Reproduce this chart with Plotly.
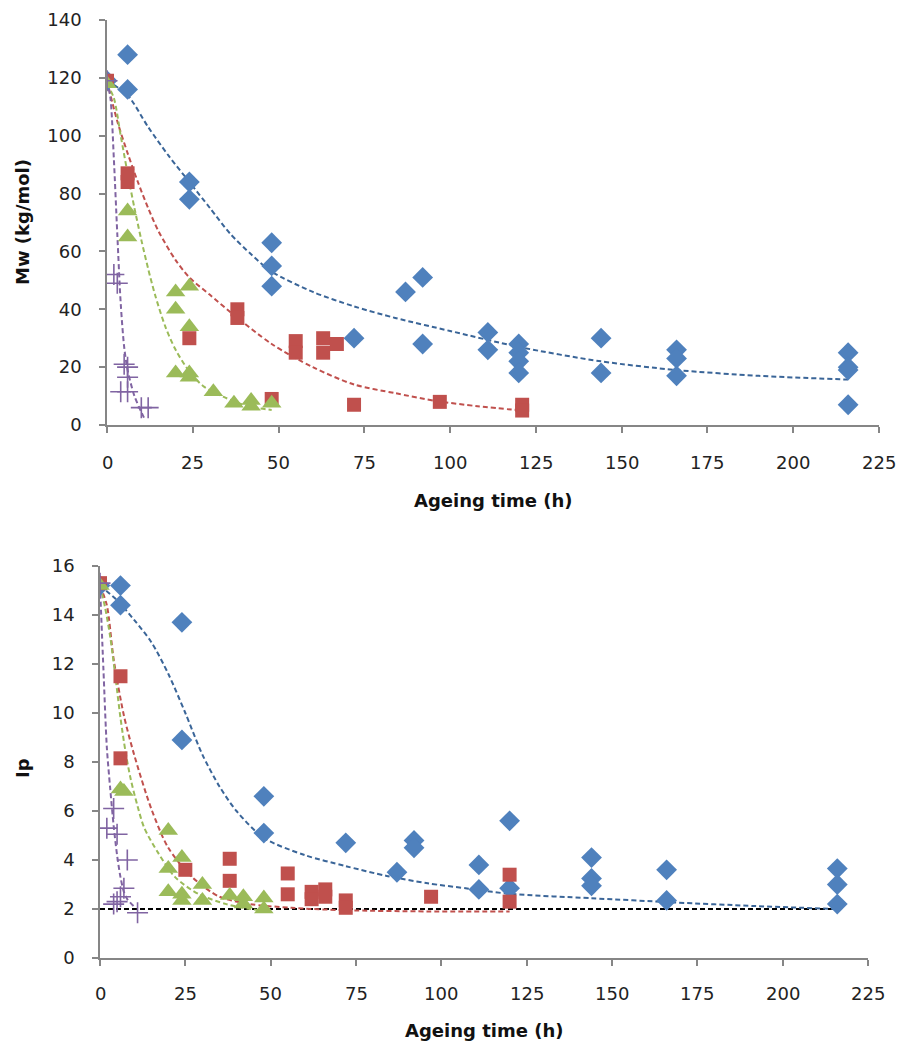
import plotly.graph_objects as go

# ---------------- Top chart: Mw (kg/mol) ----------------
blue_t = [0, 6, 6, 24, 24, 48, 48, 48, 72, 87, 92, 92, 111, 111, 120, 120, 120, 120, 144, 144, 166, 166, 166, 216, 216, 216, 216]
blue_mw = [119, 128, 116, 84, 78, 63, 55, 48, 30, 46, 51, 28, 32, 26, 28, 25, 22, 18, 30, 18, 26, 23, 17, 25, 20, 19, 7]

red_t = [0, 6, 6, 24, 38, 38, 48, 55, 55, 63, 63, 67, 72, 97, 121, 121]
red_mw = [119, 87, 84, 30, 40, 37, 9, 29, 25, 30, 25, 28, 7, 8, 7, 5]

green_t = [0, 6, 6, 20, 24, 20, 24, 20, 24, 24, 31, 37, 42, 42, 48]
green_mw = [118, 74, 65, 46, 48, 40, 34, 18, 18, 16.5, 11.5, 7.5, 8.5, 6.5, 7.5]

purple_t = [0, 2, 3, 5, 6, 6, 4, 6, 10, 12]
purple_mw = [119, 52, 49, 21, 20, 16.5, 11.5, 11.5, 6, 6]

# fitted trend curves
blue_fit_t = [0, 6, 12, 18, 24, 30, 36, 42, 48, 60, 72, 84, 100, 120, 144, 166, 190, 216]
blue_fit_mw = [119, 114, 103, 93, 84, 75, 66, 59, 53, 46, 41, 37, 32.5, 27, 22, 19, 17, 15.7]
red_fit_t = [0, 3, 6, 9, 12, 15, 20, 24, 30, 36, 48, 60, 72, 84, 96, 108, 121]
red_fit_mw = [119, 105, 94, 84, 75, 67, 57, 51, 45, 39, 28, 20, 14, 11, 8.3, 6.5, 5]
green_fit_t = [0, 2, 4, 6, 8, 10, 12, 14, 17, 20, 24, 28, 34, 41, 48]
green_fit_mw = [118, 113, 100, 87, 75, 64, 54, 45, 34, 26, 18.5, 13.5, 9.7, 6.5, 5.2]
purple_fit_t = [0, 1, 2, 3, 4, 5, 6, 8, 10, 11]
purple_fit_mw = [119, 113, 92, 66, 42, 27, 19, 10, 4.5, 2]

# ---------------- Bottom chart: Ip ----------------
blue2_t = [0, 6, 6, 24, 24, 48, 48, 72, 87, 92, 92, 111, 111, 120, 120, 144, 144, 144, 166, 166, 216, 216, 216]
blue2_ip = [15.2, 15.2, 14.4, 13.7, 8.9, 6.6, 5.1, 4.7, 3.5, 4.8, 4.5, 3.8, 2.8, 5.6, 2.85, 4.1, 3.25, 2.95, 3.6, 2.35, 3.65, 3.0, 2.2]

red2_t = [0, 6, 6, 25, 38, 38, 55, 55, 62, 62, 66, 66, 72, 72, 97, 120, 120]
red2_ip = [15.3, 11.5, 8.15, 3.6, 4.05, 3.15, 3.45, 2.6, 2.7, 2.4, 2.8, 2.5, 2.35, 2.05, 2.5, 3.4, 2.3]

green2_t = [0, 6, 7, 20, 20, 24, 20, 24, 24, 30, 30, 38, 42, 42, 48, 48]
green2_ip = [15.2, 6.9, 6.8, 5.2, 3.65, 4.1, 2.7, 2.6, 2.35, 3.0, 2.35, 2.55, 2.5, 2.2, 2.45, 2.0]

purple2_t = [0, 4, 2, 5, 8, 7, 6, 5, 4, 11]
purple2_ip = [15.3, 6.1, 5.3, 5.05, 4.0, 2.85, 2.5, 2.3, 2.2, 1.85]

blue2_fit_t = [0, 5, 10, 15, 20, 25, 30, 35, 40, 48, 60, 72, 84, 96, 108, 120, 144, 168, 192, 216]
blue2_fit_ip = [15.2, 14.6, 13.8, 12.9, 11.6, 10.0, 8.3, 7.0, 6.0, 4.9, 4.2, 3.75, 3.35, 3.05, 2.83, 2.62, 2.44, 2.27, 2.12, 2.0]
red2_fit_t = [0, 2, 4, 7, 10, 15, 20, 27, 35, 44, 56, 72, 96, 120]
red2_fit_ip = [15.2, 14.4, 12.2, 9.9, 8.3, 6.1, 4.5, 3.3, 2.5, 2.2, 2.05, 1.95, 1.9, 1.9]
green2_fit_t = [0, 1.5, 3, 4.5, 6, 7.5, 9, 11, 13, 17, 22, 29, 37, 44, 48]
green2_fit_ip = [15.2, 14.3, 13.1, 11.5, 9.8, 8.4, 7.3, 6.2, 5.3, 4.3, 3.3, 2.6, 2.2, 2.0, 1.95]
purple2_fit_t = [0, 1, 2, 3, 4, 5, 6, 7, 8, 10]
purple2_fit_ip = [15.2, 11.8, 8.6, 6.9, 5.4, 4.2, 3.3, 2.7, 2.4, 2.1]
baseline_t = [0, 216]
baseline_ip = [2, 2]

x_ticks = [0, 25, 50, 75, 100, 125, 150, 175, 200, 225]
mw_ticks = [0, 20, 40, 60, 80, 100, 120, 140]
ip_ticks = [0, 2, 4, 6, 8, 10, 12, 14, 16]

BLUE = "#4F81BD"
BLUE_LINE = "#3A6598"
RED = "#C0504D"
GREEN = "#9BBB59"
PURPLE = "#8064A2"
TICK_FONT = "DejaVu Sans"
TITLE_FONT = "DejaVu Sans"

W, H = 904, 1047


def fx(px):
    return px / W


def fy(py):
    return (H - py) / H


fig = go.Figure()


def add_line(x, y, color, xa, ya):
    fig.add_trace(go.Scatter(x=x, y=y, mode="lines", xaxis=xa, yaxis=ya,
                             line=dict(color=color, width=2, dash="5px,3px", shape="spline", smoothing=0.8),
                             showlegend=False, hoverinfo="skip"))


def add_pts(x, y, color, symbol, size, xa, ya, cross=False):
    if cross:
        marker = dict(symbol="cross-thin", size=size, color=color, line=dict(color=color, width=1.6))
    else:
        marker = dict(symbol=symbol, size=size, color=color, line=dict(width=0))
    fig.add_trace(go.Scatter(x=x, y=y, mode="markers", xaxis=xa, yaxis=ya,
                             marker=marker, showlegend=False))


# top chart
add_line(blue_fit_t, blue_fit_mw, BLUE_LINE, "x", "y")
add_line(red_fit_t, red_fit_mw, RED, "x", "y")
add_line(green_fit_t, green_fit_mw, GREEN, "x", "y")
add_line(purple_fit_t, purple_fit_mw, PURPLE, "x", "y")
add_pts(blue_t, blue_mw, BLUE, "diamond", 16, "x", "y")
add_pts(red_t, red_mw, RED, "square", 14, "x", "y")
add_pts(green_t, green_mw, GREEN, "triangle-up", 17, "x", "y")
add_pts(purple_t, purple_mw, PURPLE, None, 15, "x", "y", cross=True)

# bottom chart
add_line(baseline_t, baseline_ip, "#000000", "x2", "y2")
add_line(blue2_fit_t, blue2_fit_ip, BLUE_LINE, "x2", "y2")
add_line(red2_fit_t, red2_fit_ip, RED, "x2", "y2")
add_line(green2_fit_t, green2_fit_ip, GREEN, "x2", "y2")
add_line(purple2_fit_t, purple2_fit_ip, PURPLE, "x2", "y2")
add_pts(blue2_t, blue2_ip, BLUE, "diamond", 16, "x2", "y2")
add_pts(red2_t, red2_ip, RED, "square", 14, "x2", "y2")
add_pts(green2_t, green2_ip, GREEN, "triangle-up", 17, "x2", "y2")
add_pts(purple2_t, purple2_ip, PURPLE, None, 15, "x2", "y2", cross=True)

tick_font = dict(family=TICK_FONT, size=18, color="#222222")
axis_common = dict(showline=True, linecolor="#868686", linewidth=1.5, ticks="outside",
                   tickcolor="#868686", ticklen=6, tickwidth=1.5, showgrid=False, zeroline=False,
                   automargin=False, tickfont=tick_font)

fig.update_layout(
    width=W, height=H, margin=dict(l=0, r=0, t=0, b=0, autoexpand=False),
    paper_bgcolor="white", plot_bgcolor="white",
    xaxis=dict(domain=[fx(107), fx(879)], range=[0, 225], tickvals=x_ticks, showticklabels=False,
               anchor="y", **axis_common),
    yaxis=dict(domain=[fy(425), fy(20)], range=[0, 140], tickvals=mw_ticks,
               anchor="x", ticklabelstandoff=14, **axis_common),
    xaxis2=dict(domain=[fx(100), fx(868)], range=[0, 225], tickvals=x_ticks, showticklabels=False,
                anchor="y2", **axis_common),
    yaxis2=dict(domain=[fy(958), fy(566)], range=[0, 16], tickvals=ip_ticks,
                anchor="x2", ticklabelstandoff=14, **axis_common),
)

# x tick labels placed at the tick values, lowered like the reference
for v in x_ticks:
    fig.add_annotation(text=str(v), x=v, xref="x", y=fy(462), yref="paper", showarrow=False,
                       font=tick_font, xanchor="center", yanchor="middle")
    fig.add_annotation(text=str(v), x=v, xref="x2", y=fy(993), yref="paper", showarrow=False,
                       font=tick_font, xanchor="center", yanchor="middle")

title_font = dict(family=TITLE_FONT, size=18, color="#111111")
fig.add_annotation(text="<b>Ageing time (h)</b>", x=fx(493), y=fy(500), xref="paper", yref="paper",
                   showarrow=False, font=title_font, xanchor="center", yanchor="middle")
fig.add_annotation(text="<b>Ageing time (h)</b>", x=fx(484), y=fy(1030), xref="paper", yref="paper",
                   showarrow=False, font=title_font, xanchor="center", yanchor="middle")
fig.add_annotation(text="<b>Mw (kg/mol)</b>", x=fx(22), y=fy(222), xref="paper", yref="paper",
                   showarrow=False, font=title_font, textangle=-90, xanchor="center", yanchor="middle")
fig.add_annotation(text="<b>Ip</b>", x=fx(22), y=fy(768), xref="paper", yref="paper",
                   showarrow=False, font=title_font, textangle=-90, xanchor="center", yanchor="middle")

fig.write_html("out.html", config={"displayModeBar": False},
               post_script="document.body.style.margin='0px';")
